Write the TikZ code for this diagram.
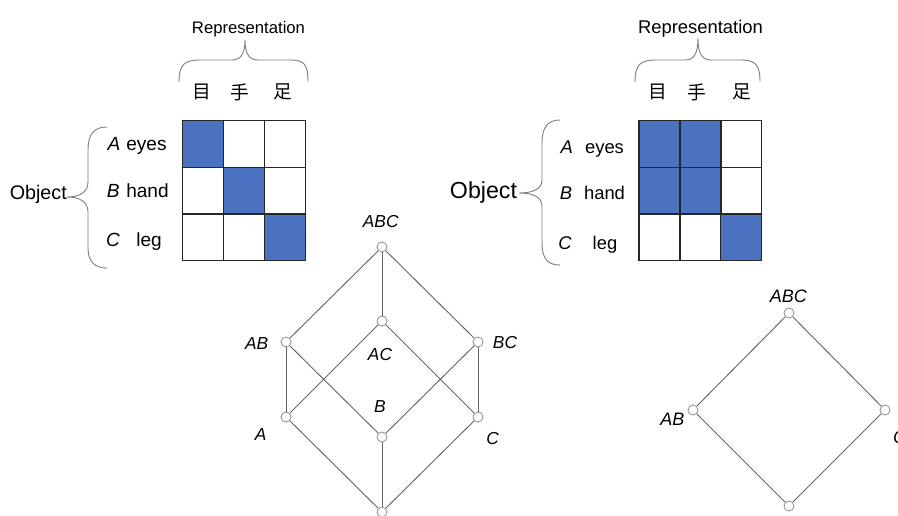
\documentclass[tikz,border=0pt]{standalone}
\usepackage{fontspec}
\setmainfont{Liberation Sans}
\newfontfamily\jpfont{Noto Sans CJK JP}
\definecolor{cellblue}{RGB}{74,114,193}
\begin{document}
\begin{tikzpicture}[x=0.75pt,y=-0.75pt,
  cell/.style={draw=black!85,line width=1.1pt,inner sep=0pt,outer sep=0pt,minimum width=30.75pt,minimum height=35pt},
  on/.style={cell,fill=cellblue},
  off/.style={cell,fill=white},
  vtx/.style={circle,draw=black!40,fill=white,line width=0.7pt,minimum size=7.5pt,inner sep=0pt},
  edge/.style={draw=black!60,line width=0.7pt},
  brace/.style={draw=black!50,line width=0.7pt},
  txt/.style={inner sep=0pt,anchor=base},
  lab/.style={inner sep=0pt,font=\fontsize{13}{15}\selectfont\itshape},
  kanji/.style={inner sep=0pt,font=\jpfont\fontsize{14}{16}\selectfont}]
\clip (0,0) rectangle (898,516);

% ---------- left matrix ----------
\foreach \r/\y in {1/144,2/190.7,3/237.3}{
  \foreach \c/\x in {1/203.2,2/244.2,3/285.2}{
    \ifnum\r=\c
      \node[on] (L\r\c) at (\x,\y) {};
    \else
      \node[off] (L\r\c) at (\x,\y) {};
    \fi
  }
}
\node[txt,font=\fontsize{12.5}{14}\selectfont] (repL) at (248.5,33.3) {Representation};
\draw[brace] (179,82) .. controls (179,64) and (185,60) .. (200,60) -- (232,60)
  .. controls (240,60) and (245,55) .. (245,40) .. controls (245,55) and (250,60) .. (258,60)
  -- (290,60) .. controls (304,60) and (308,64) .. (308,82);
\node[kanji] (kL1) at (202,92) {目};
\node[kanji] (kL2) at (240,92) {手};
\node[kanji] (kL3) at (283,92) {足};
\node[txt,font=\fontsize{14.8}{16}\selectfont] (objL) at (38.3,200) {Object};
\draw[brace] (107,127) .. controls (95,127) and (88,133) .. (88,150) -- (88,182)
  .. controls (88,192) and (80,197) .. (67,197) .. controls (80,197) and (88,202) .. (88,212)
  -- (88,248) .. controls (88,262) and (95,268) .. (107,268);
\begin{scope}[every node/.style={txt,font=\fontsize{14.3}{16}\selectfont}]
\node (LA) at (114,150.7) {\itshape A};
\node (Leyes) at (146.5,150.7) {eyes};
\node (LB) at (113.3,197.7) {\itshape B};
\node (Lhand) at (147.5,197.7) {hand};
\node (LC) at (113,246.7) {\itshape C};
\node (Lleg) at (149,246.7) {leg};
\end{scope}

% ---------- right matrix ----------
\foreach \r/\y in {1/144,2/190.7,3/237.3}{
  \foreach \c/\x in {1/659.5,2/700.3,3/741.2}{
    \node[off] (R\r\c) at (\x,\y) {};
  }
}
\node[on] at (R11) {};
\node[on] at (R12) {};
\node[on] at (R21) {};
\node[on] at (R22) {};
\node[on] at (R33) {};
\node[txt,font=\fontsize{13.8}{15}\selectfont] (repR) at (700.5,33.3) {Representation};
\draw[brace] (635,82) .. controls (635,64) and (641,60) .. (656,60) -- (685,60)
  .. controls (693,60) and (698,55) .. (698,38) .. controls (698,55) and (703,60) .. (711,60)
  -- (740,60) .. controls (755,60) and (760,64) .. (760,82);
\node[kanji] (kR1) at (658,92) {目};
\node[kanji] (kR2) at (697,92) {手};
\node[kanji] (kR3) at (742,92) {足};
\node[txt,font=\fontsize{17.4}{19}\selectfont] (objR) at (483.5,198.7) {Object};
\draw[brace] (560,120) .. controls (548,120) and (542,127) .. (542,143) -- (542,180)
  .. controls (542,189) and (533,193) .. (519,193) .. controls (533,193) and (542,197) .. (542,206)
  -- (542,243) .. controls (542,259) and (548,265) .. (560,265);
\begin{scope}[every node/.style={txt,font=\fontsize{13.8}{16}\selectfont}]
\node (RA) at (566.7,154) {\itshape A};
\node (Reyes) at (604.5,154) {eyes};
\node (RB) at (566,200) {\itshape B};
\node (Rhand) at (604.5,200) {hand};
\node (RC) at (565,250) {\itshape C};
\node (Rleg) at (605,250) {leg};
\end{scope}

% ---------- left lattice ----------
\node[vtx] (vABC) at (382,247) {};
\node[vtx] (vAC) at (382,321) {};
\node[vtx] (vAB) at (286,342) {};
\node[vtx] (vBC) at (478,342) {};
\node[vtx] (vA) at (286,417) {};
\node[vtx] (vB) at (382,437) {};
\node[vtx] (vC) at (478,417) {};
\node[vtx] (v0) at (382,512) {};
\draw[edge] (vABC) -- (vAB);
\draw[edge] (vABC) -- (vAC);
\draw[edge] (vABC) -- (vBC);
\draw[edge] (vAB) -- (vA);
\draw[edge] (vAB) -- (vB);
\draw[edge] (vAC) -- (vA);
\draw[edge] (vAC) -- (vC);
\draw[edge] (vBC) -- (vB);
\draw[edge] (vBC) -- (vC);
\draw[edge] (vA) -- (v0);
\draw[edge] (vB) -- (v0);
\draw[edge] (vC) -- (v0);
\node[lab] (tABC) at (380.7,221.7) {ABC};
\node[lab] (tAB) at (256.7,344) {AB};
\node[lab] (tBC) at (505,342.7) {BC};
\node[lab] (tAC) at (380,355) {AC};
\node[lab] (tB) at (380,406.7) {B};
\node[lab] (tA) at (260.7,435) {A};
\node[lab] (tC) at (492.7,438.3) {C};

% ---------- right lattice ----------
\node[vtx] (wABC) at (789,313) {};
\node[vtx] (wAB) at (693,410) {};
\node[vtx] (wR) at (885,410) {};
\node[vtx] (w0) at (789,506) {};
\draw[edge] (wABC) -- (wAB);
\draw[edge] (wABC) -- (wR);
\draw[edge] (wAB) -- (w0);
\draw[edge] (wR) -- (w0);
\node[lab,font=\fontsize{13.5}{15}\selectfont\itshape] (uABC) at (788.3,296) {ABC};
\node[lab,font=\fontsize{13.5}{15}\selectfont\itshape] (uAB) at (672.3,419.3) {AB};
\node[lab,font=\fontsize{13.5}{15}\selectfont\itshape] (uC) at (899.5,437) {C};
\end{tikzpicture}
\end{document}
